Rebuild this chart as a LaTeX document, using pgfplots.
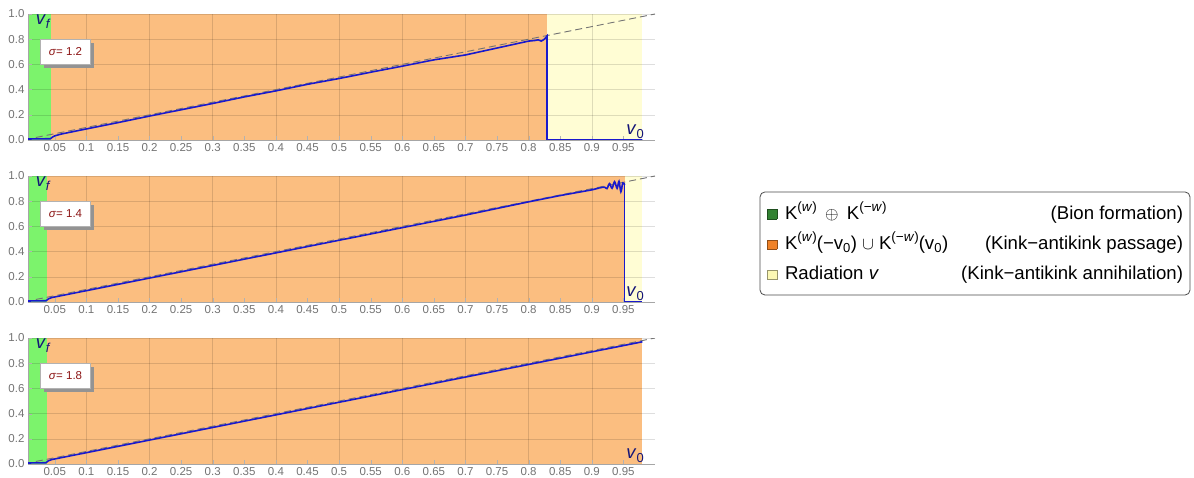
\documentclass[border=0pt]{standalone}
\usepackage{pgfplots}
\pgfplotsset{compat=1.18}
\usepackage{fontspec}
\setmainfont{Liberation Sans}
\usetikzlibrary{shadows}
\definecolor{cgreen}{RGB}{124,243,108}
\definecolor{corange}{RGB}{251,190,128}
\definecolor{cyellow}{RGB}{255,253,212}
\definecolor{cblue}{RGB}{25,25,205}
\definecolor{cnavy}{RGB}{20,20,120}
\definecolor{cred}{RGB}{140,20,20}
\definecolor{lgreen}{RGB}{50,130,50}
\definecolor{lorange}{RGB}{240,130,40}
\definecolor{lyellow}{RGB}{252,248,180}
\newcommand{\mk}[1]{\raisebox{0.5pt}{\fcolorbox{#1!60!black}{#1}{\rule{0pt}{9pt}\rule{9pt}{0pt}}}}
\newcommand{\sps}[1]{\raisebox{0.42em}{\fontsize{13.5}{14}\selectfont #1}}
\pgfplotsset{
 panel/.style={
  scale only axis, width=627pt, height=126pt,
  xmin=0.0076, xmax=1.0, ymin=0, ymax=1,
  anchor=south west,
  set layers,
  axis x line*=bottom, axis y line*=left,
  axis line style={gray!70, line width=0.6pt},
  tick align=inside, major tick length=4pt,
  tick style={gray!60},
  xtick={0.05,0.1,0.15,0.2,0.25,0.3,0.35,0.4,0.45,0.5,0.55,0.6,0.65,0.7,0.75,0.8,0.85,0.9,0.95},
  xticklabels={0.05,0.1,0.15,0.2,0.25,0.3,0.35,0.4,0.45,0.5,0.55,0.6,0.65,0.7,0.75,0.8,0.85,0.9,0.95},
  ytick={0,0.2,0.4,0.6,0.8,1},
  yticklabels={0.0,0.2,0.4,0.6,0.8,1.0},
  ticklabel style={font=\fontsize{11.5}{12}\selectfont, text=gray!90!black},
  /pgf/number format/assume math mode=true,
  extra x ticks={0.1,0.2,0.3,0.4,0.5,0.6,0.7,0.8,0.9},
  extra x tick labels={},
  extra x tick style={grid=major, major tick length=0pt},
  ymajorgrids,
  grid style={black, opacity=0.13, line width=0.5pt},
 },
 reg/.style={draw=none, fill=#1, on layer=axis background, forget plot},
 dash/.style={gray!90!black, line width=0.9pt, dash pattern=on 7pt off 4pt},
 curve/.style={cblue, line width=1.6pt},
}
\newcommand{\panelnodes}[1]{%
  \node[anchor=north west, inner sep=1pt, text=cnavy, font=\fontsize{18.5}{20}\selectfont] at (axis cs:0.018,1.0) {\textit{v}\textsubscript{\textit{f}}};
  \node[anchor=south east, inner sep=1pt, text=cnavy, font=\fontsize{18.5}{20}\selectfont] at (axis cs:0.985,0.005) {\textit{v}\textsubscript{0}};
  \node[draw=gray!60, fill=white, minimum width=50pt, minimum height=25pt, inner sep=1pt,
        drop shadow={shadow xshift=3.5pt, shadow yshift=-3.5pt, fill=gray!85, opacity=1},
        text=cred, font=\fontsize{11.5}{12}\selectfont] at (axis cs:0.067,0.702) {\textit{σ}= #1};
}
\begin{document}
\begin{tikzpicture}
% Panel 1
\begin{axis}[panel, at={(28pt,337pt)}]
\addplot[reg=cgreen] coordinates {(0.0076,0) (0.0076,1) (0.044,1) (0.044,0)} -- cycle;
\addplot[reg=corange] coordinates {(0.044,0) (0.044,1) (0.829,1) (0.829,0)} -- cycle;
\addplot[reg=cyellow] coordinates {(0.829,0) (0.829,1) (0.98,1) (0.98,0)} -- cycle;
\addplot[dash] coordinates {(0.02,0.02) (1,1)};
\addplot[curve] coordinates {(0.0076,0.008) (0.043,0.010) (0.046,0.022) (0.050,0.033) (0.06,0.047) (0.1,0.088) (0.15,0.138) (0.2,0.19) (0.25,0.24) (0.3,0.29) (0.35,0.342) (0.4,0.39) (0.45,0.442) (0.5,0.488) (0.55,0.538) (0.6,0.586) (0.65,0.636) (0.7,0.675) (0.75,0.73) (0.8,0.785) (0.81,0.79) (0.815,0.795) (0.82,0.785) (0.825,0.80) (0.829,0.825) (0.829,0.0) (0.98,0.0)};
\panelnodes{1.2}
\end{axis}
% Panel 2
\begin{axis}[panel, at={(28pt,175pt)}]
\addplot[reg=cgreen] coordinates {(0.0076,0) (0.0076,1) (0.038,1) (0.038,0)} -- cycle;
\addplot[reg=corange] coordinates {(0.038,0) (0.038,1) (0.952,1) (0.952,0)} -- cycle;
\addplot[reg=cyellow] coordinates {(0.952,0) (0.952,1) (0.98,1) (0.98,0)} -- cycle;
\addplot[dash] coordinates {(0.02,0.02) (1,1)};
\addplot[curve] coordinates {(0.0076,0.008) (0.036,0.010) (0.040,0.025) (0.045,0.035) (0.06,0.05) (0.1,0.09) (0.2,0.19) (0.3,0.29) (0.4,0.39) (0.5,0.49) (0.6,0.59) (0.7,0.69) (0.8,0.795) (0.85,0.845) (0.9,0.89) (0.912,0.905)};
\addplot[curve, smooth, tension=0.6] coordinates {(0.912,0.905) (0.92,0.912) (0.924,0.90) (0.928,0.94) (0.932,0.902) (0.936,0.955) (0.940,0.902) (0.943,0.958) (0.946,0.875) (0.949,0.945) (0.952,0.93)};
\addplot[curve] coordinates {(0.952,0.93) (0.952,0.0) (0.98,0.0)};
\panelnodes{1.4}
\end{axis}
% Panel 3
\begin{axis}[panel, at={(28pt,13pt)}]
\addplot[reg=cgreen] coordinates {(0.0076,0) (0.0076,1) (0.037,1) (0.037,0)} -- cycle;
\addplot[reg=corange] coordinates {(0.037,0) (0.037,1) (0.98,1) (0.98,0)} -- cycle;
\addplot[dash] coordinates {(0.02,0.02) (1,1)};
\addplot[curve] coordinates {(0.0076,0.008) (0.036,0.010) (0.040,0.026) (0.046,0.036) (0.06,0.05) (0.1,0.09) (0.2,0.19) (0.3,0.29) (0.4,0.39) (0.5,0.49) (0.6,0.59) (0.7,0.69) (0.8,0.79) (0.9,0.89) (0.98,0.97)};
\panelnodes{1.8}
\end{axis}
% Legend
\setlength{\fboxsep}{0pt}\setlength{\fboxrule}{0.5pt}
\node[draw=gray!60!black, rounded corners=5pt, line width=0.8pt, fill=white, inner xsep=7pt, inner ysep=6pt,
      font=\fontsize{18.6}{22}\selectfont] at (975pt,233.5pt) {%
\renewcommand{\arraystretch}{1.38}%
\begin{tabular*}{416pt}{@{}l@{\hspace{8pt}}l@{\extracolsep{\fill}}r@{}}
\mk{lgreen} & K\sps{(\textit{w})} \,$\oplus$\, K\sps{(−\textit{w})} & (Bion formation)\\
\mk{lorange} & K\sps{(\textit{w})}(−v\textsubscript{0}) $\cup$ K\sps{(−\textit{w})}(v\textsubscript{0}) & (Kink−antikink passage)\\
\mk{lyellow} & Radiation \textit{v} & (Kink−antikink annihilation)
\end{tabular*}};
\pgfresetboundingbox
\path[use as bounding box] (0,0) rectangle (1194pt,477pt);
\end{tikzpicture}
\end{document}
